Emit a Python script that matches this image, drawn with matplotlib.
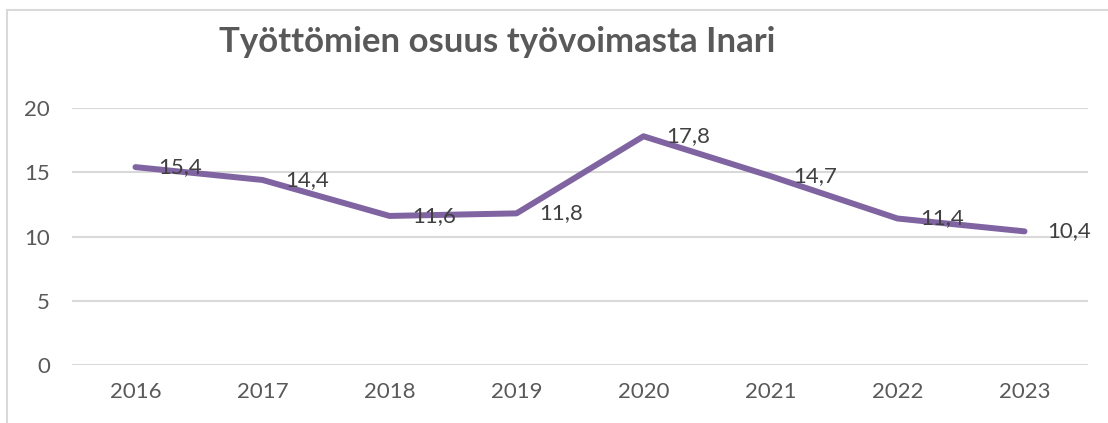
import matplotlib.pyplot as plt
from matplotlib.patches import Rectangle

years = ["2016", "2017", "2018", "2019", "2020", "2021", "2022", "2023"]
osuus = [15.4, 14.4, 11.6, 11.8, 17.8, 14.7, 11.4, 10.4]
y_ticks = [0, 5, 10, 15, 20]

plt.rcParams['font.family'] = ['Lato', 'DejaVu Sans']

fig = plt.figure(figsize=(11.08, 4.23), dpi=100)
ax = fig.add_axes([72/1108, 1-365/423, 1016/1108, 257/423])

x = list(range(len(years)))
ax.plot(x, osuus, color='#8064A2', linewidth=4.3, solid_capstyle='round', solid_joinstyle='round', zorder=3)

# data labels to the right of points
for xi, v in zip(x, osuus):
    ax.annotate(f"{v:.1f}".replace('.', ','), (xi, v), xytext=(16, 0), textcoords='offset points',
                ha='left', va='center', fontsize=16, color='#404040', zorder=4)

ax.set_xlim(-0.5, len(years) - 0.5)
ax.set_ylim(0, 20)
ax.set_xticks(x)
ax.set_xticklabels(years)
ax.set_yticks(y_ticks)
ax.grid(axis='y', color='#d9d9d9', linewidth=1.5)
ax.set_axisbelow(True)
for s in ax.spines.values():
    s.set_visible(False)
ax.tick_params(length=0, labelsize=16, labelcolor='#595959')
ax.tick_params(axis='x', pad=12)
ax.tick_params(axis='y', pad=16)

fig.text(497/1108, 1-42/423, "Työttömien osuus työvoimasta Inari", ha='center', va='center',
         fontsize=25, fontweight='bold', color='#595959')

# chart frame (runs off the right and bottom edges)
fig.patches.append(Rectangle((7/1108, -0.1), 1.2, 1-10/423+0.1, transform=fig.transFigure,
                             fill=False, edgecolor='#d9d9d9', linewidth=1.5))

fig.savefig("out.png", dpi=100)
